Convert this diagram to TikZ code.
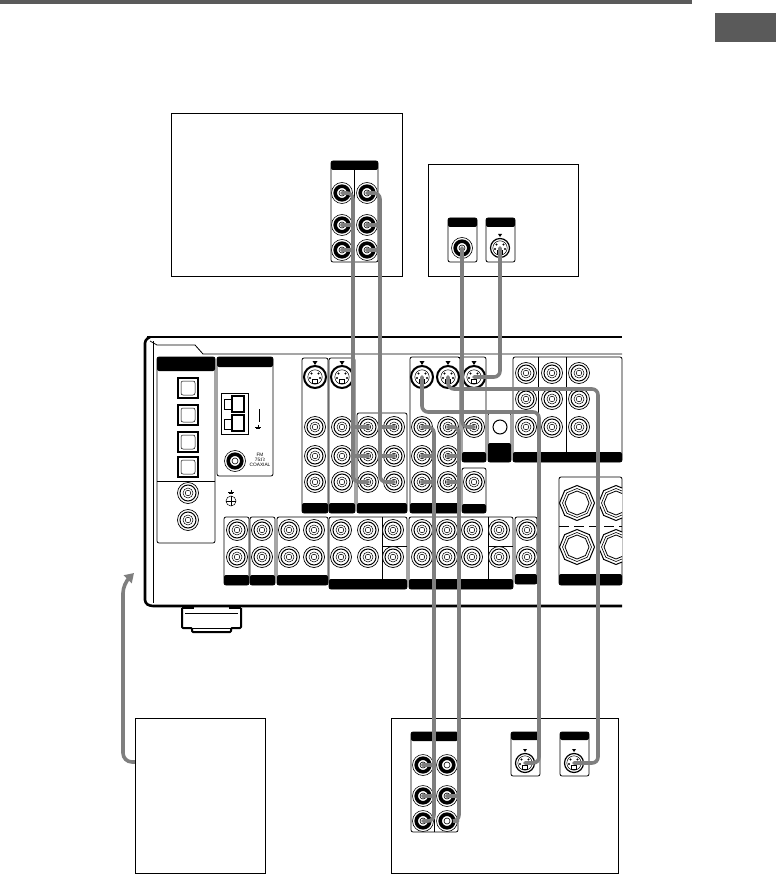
\documentclass[tikz,border=0pt]{standalone}
\usepackage{fontspec}
\setmainfont{Liberation Sans}
\usetikzlibrary{arrows.meta,calc,positioning,shapes.geometric}

\begin{document}
\begin{tikzpicture}[
        x=1pt,
        y=-1pt,
        wire/.style={line width=0.8pt},
        frame/.style={line width=0.9pt},
        hull/.style={line width=2.6pt, line join=round},
        cable/.style={draw=cablegray, line width=3.6pt, rounded corners=6pt, line cap=round},
        rca/.style={circle, draw, fill=white, line width=0.7pt, minimum size=21pt, inner sep=0pt,
            path picture={
                \draw[line width=1pt] (path picture bounding box.center) circle (8pt);
                \draw[line width=0.5pt] (path picture bounding box.center) circle (5pt);
                \draw[line width=0.5pt] (path picture bounding box.center) circle (2.8pt);
            }},
        rcadark/.style={circle, draw, fill=white, line width=0.6pt, minimum size=21pt, inner sep=0pt,
            path picture={
                \draw[line width=3.6pt] (path picture bounding box.center) circle (6.8pt);
                \draw[line width=0.6pt] (path picture bounding box.center) circle (3pt);
            }},
        sjack/.style={circle, draw, fill=white, line width=2pt, minimum size=22pt, inner sep=0pt,
            path picture={
                \draw[line width=0.5pt] (path picture bounding box.center) circle (7.2pt);
                \fill[black] ($(path picture bounding box.center)+(-3.5,-3.5)$) circle (1.2pt);
                \fill[black] ($(path picture bounding box.center)+(3.5,-3.5)$) circle (1.2pt);
                \fill[black] ($(path picture bounding box.center)+(-5,1)$) circle (1.2pt);
                \fill[black] ($(path picture bounding box.center)+(5,1)$) circle (1.2pt);
                \draw[line width=0.6pt] ($(path picture bounding box.center)+(-2.5,2)$) rectangle ++(5,4);
            }},
        sjacksmall/.style={sjack, minimum size=19pt, line width=1.2pt},
        optical/.style={draw, fill=white, line width=1.2pt, minimum size=20pt, inner sep=0pt,
            path picture={
                \draw[line width=0.5pt, rounded corners=2pt] ($(path picture bounding box.center)+(-7,-7)$) rectangle ++(14,14);
            }},
        octo/.style={draw, fill=white, regular polygon, regular polygon sides=8, line width=1pt,
            minimum size=35pt, inner sep=0pt, shape border rotate=22.5},
        octomid/.style={octo, line width=0.6pt, minimum size=29pt},
        octoin/.style={octo, line width=0.8pt, minimum size=24pt},
        smalltext/.style={font=\fontsize{4.8}{5}\selectfont, align=center, inner sep=0pt}
    ]
        \definecolor{cablegray}{HTML}{7F7F7F}
        \definecolor{tabgray}{HTML}{5A5A5A}
        \useasboundingbox (0,0) rectangle (776,874);

        % page marks
        \fill[tabgray] (0,0) rectangle (692,4);
        \fill[tabgray] (715,13) rectangle (776,42);

        % equipment boxes
        \draw[frame] (171,113) rectangle (402,276);
        \draw[frame] (428,164) rectangle (578,276);
        \draw[frame] (135,718) rectangle (265,873);
        \draw[frame] (391,718) rectangle (618,873);

        % small panels with a black band on top
        \foreach \xa/\ya/\xb/\yb/\yh in {331/161/378/262/170, 448/218/477/262/227, 486/218/515/262/227,
                411/732/458/832/741, 511/732/540/776/740, 560/732/589/776/740}{
            \draw[wire, rounded corners=2pt] (\xa,\ya) rectangle (\xb,\yb);
            \fill[rounded corners=2pt] (\xa,\yh) -- (\xa,\ya) -- (\xb,\ya) -- (\xb,\yh) -- cycle;
        }
        \draw[wire] (354,170) -- (354,262);
        \draw[wire] (434,741) -- (434,832);

        % receiver body
        \draw[hull] (147,337) -- (622,337);
        \draw[hull, rounded corners=3pt] (150,337) -- (145,340) -- (145,603) -- (150,606) -- (622,606);
        \draw[wire] (153,341) -- (153,603);
        \draw[wire] (150,341) -- (157,345) -- (195,345) -- (203,354) -- (622,354);
        \draw[hull, line width=2pt, rounded corners=1pt] (182,608) -- (182,628) -- (192,628) -- (192,632) -- (231,632) -- (231,628) -- (241,628) -- (241,608);
        \draw[hull, line width=2pt] (182,608) -- (194,608) (229,608) -- (241,608);
        \draw[wire] (185,613) -- (238,613);
        \draw[wire] (192,628) -- (231,628);

        % receiver panels with a black band at the foot
        \foreach \xa/\ya/\xb/\yb/\yh in {302/358/328/513/503, 329/358/355/513/503, 357/413/407/513/503,
                410/357/460/513/503, 462/357/486/462/452, 462/468/486/513/504, 488/413/511/462/443,
                513/357/622/462/452, 224/517/249/585/575, 250/517/275/585/575, 277/517/328/585/575,
                329/517/407/589/579, 409/517/513/589/579, 515/517/537/584/574, 559/477/622/585/574}{
            \draw[wire, rounded corners=2pt] (\xa,\ya) rectangle (\xb,\yb);
            \fill[rounded corners=2pt] (\xa,\yh) -- (\xb,\yh) -- (\xb,\yb) -- (\xa,\yb) -- cycle;
        }
        \draw[wire] (458,357) -- (464,357);
        \draw[wire] (538,357) -- (538,452);
        \draw[wire] (566,357) -- (566,452);
        \draw[wire] (382,517) -- (382,579);
        \draw[wire] (382,546) -- (407,546);
        \draw[wire] (488,517) -- (488,579);
        \draw[wire] (488,546) -- (513,546);
        \draw[wire, dashed, dash pattern=on 10pt off 5pt] (559,526) -- (622,526);

        % digital panel
        \draw[wire, rounded corners=2pt] (157,357) rectangle (215,543);
        \fill[rounded corners=2pt] (157,371) -- (157,357) -- (215,357) -- (215,371) -- cycle;
        \draw[wire] (157,481) -- (215,481);
        \foreach \y/\lab in {388/a,415/b,442/c,467/d}{
            \node[optical] (opt\lab) at (188,\y) {};
        }
        \node[rca] (dig1) at (188,493) {};
        \node[rca] (dig2) at (188,520) {};

        % antenna panel
        \draw[wire, rounded corners=2pt] (217,357) rectangle (273,476);
        \fill[rounded corners=2pt] (217,367) -- (217,357) -- (273,357) -- (273,367) -- cycle;
        \draw[wire] (221,393) rectangle (248,434);
        \draw[line width=1.2pt] (232,396) rectangle (244,412);
        \draw[line width=1.2pt] (232,415) rectangle (244,431);
        \draw[wire] (224,399) rectangle (231,409);
        \draw[wire] (224,419) rectangle (231,429);
        \node[rcadark] (fm) at (235,461) {};
        \node[smalltext] (fmtext) at (260,460) {FM\\75$\Omega$\\COAXIAL};
        \draw[wire] (259,409) -- (259,422);
        \foreach \xg/\yg in {258/427,231/492}{
            \draw[line width=0.5pt] (\xg,\yg-2.5) -- (\xg,\yg) (\xg-3,\yg) -- (\xg+3,\yg) (\xg-2,\yg+1.5) -- (\xg+2,\yg+1.5);
        }
        \node[circle, draw, line width=0.5pt, minimum size=10pt, inner sep=0pt] (gnd) at (231,501) {};
        \draw[line width=0.5pt] (gnd.north) -- (gnd.south) (gnd.west) -- (gnd.east);

        % jacks of the receiver
        \foreach \x/\y/\lab in {315/427/a1,342/427/b1,368/427/c1,394/427/d1,422/427/e1,448/427/f1,474/427/g1,
                315/456/a2,342/456/b2,368/456/c2,394/456/d2,422/456/e2,448/456/f2,
                315/482/a3,342/482/b3,368/482/c3,394/482/d3,422/482/e3,448/482/f3,474/482/g3,
                526/373/h1,552/373/i1,579/373/j1,526/399/h2,552/399/i2,579/399/j2,526/427/h3,552/427/i3,579/427/j3,
                237/530/k1,262/530/l1,289/530/m1,314/530/n1,341/530/o1,368/530/q1,393/530/r1,422/530/s1,447/530/t1,472/530/u1,499/530/v1,527/530/w1,
                237/557/k2,262/557/l2,289/557/m2,314/557/n2,341/557/o2,368/557/q2,393/557/r2,422/557/s2,447/557/t2,472/557/u2,499/557/v2,527/557/w2}{
            \node[rca] (\lab) at (\x,\y) {};
        }
        \foreach \x/\lab in {315/sa,342/sb,422/sc,448/sd,474/se}{
            \node[sjack] (\lab) at (\x,377) {};
            \fill (\x-2.5,361) -- (\x+2.5,361) -- (\x,365) -- cycle;
        }
        \node[circle, draw, line width=1pt, minimum size=14pt] (hole) at (500,427) {};

        % speaker terminals
        \begin{scope}
            \clip (556,470) rectangle (622,590);
            \foreach \x/\y/\lab in {577/503/spa,616/503/spb,577/547/spc,616/547/spd}{
                \node[octo] (\lab) at (\x,\y) {};
                \node[octomid] (\lab mid) at (\x,\y) {};
                \node[octoin] (\lab in) at (\x,\y) {};
            }
        \end{scope}

        % jacks of the equipment
        \foreach \x/\y/\lab in {342/193/ta1,367/193/tb1,342/225/ta2,367/225/tb2,342/250/ta3,367/250/tb3,
                462/248/tc,423/765/ua1,447/765/ub1,423/796/ua2,447/796/ub2,423/821/ua3,447/821/ub3}{
            \node[rcadark] (\lab) at (\x,\y) {};
        }
        \foreach \x/\y/\lab in {500/248/ts,525/763/us1,574/763/us2}{
            \node[sjacksmall] (\lab) at (\x,\y) {};
            \fill (\x-2,\y-14) -- (\x+2,\y-14) -- (\x,\y-11) -- cycle;
        }

        % cables
        \coordinate (ca) at (353,300);
        \coordinate (cb) at (380,300);
        \coordinate (cc) at (434,650);
        \coordinate (cd) at (459,650);
        \coordinate (ce) at (539,600);
        \coordinate (cf) at (598,600);
        \draw[cable] (ta1.center) -| (ca) |- (c3.center);
        \draw[cable] (tb1.center) -| (cb) |- (d3.center);
        \foreach \n/\m in {ta2/ca,ta3/ca,tb2/cb,tb3/cb}{
            \draw[cable] (\n.center) -- (\n.center -| \m);
        }
        \foreach \n/\m in {c1/ca,c2/ca,d1/cb,d2/cb}{
            \draw[cable] (\n.center) -- (\n.center -| \m);
        }
        \draw[cable] (e1.center) -| (cc) |- (ua3.center);
        \draw[cable] (f1.center) -| (cd) |- (ub3.east);
        \foreach \n/\m in {e2/cc,e3/cc,f2/cd,f3/cd,ua1/cc,ua2/cc,ub2/cd}{
            \draw[cable] (\n.center) -- (\n.center -| \m);
        }
        \draw[cable] (tc.center) -- (tc.center |- g1) -- (g1.center);
        \draw[cable] (ts.center) |- (se.center);
        \draw[cable] (sc.center) |- (ce |- 0,412) -- (ce |- us1) -- (us1.center);
        \draw[cable] (sd.center) |- (cf |- 0,389) -- (cf |- us2) -- (us2.center);

        % arrow to the receiver
        \coordinate (arrowtip) at (134,573);
        \node[inner sep=0pt, minimum size=0pt] (tvleft) at (135,762) {};
        \draw[draw=cablegray, line width=3.6pt, rounded corners=9pt, -{Triangle[width=11pt,length=9pt]}]
            (tvleft) -- (123,762) -- (123,584) -- (arrowtip);
    \end{tikzpicture}
\end{document}
